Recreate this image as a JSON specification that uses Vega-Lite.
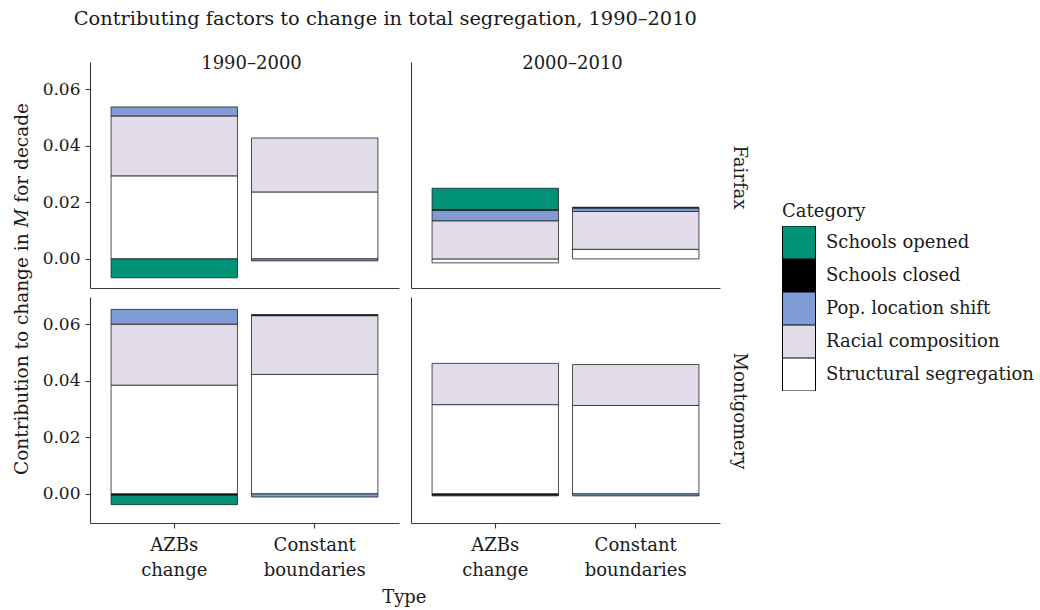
{
  "$schema": "https://vega.github.io/schema/vega-lite/v6.json",
  "background": "white",
  "padding": {"left": 12, "top": 8, "right": 5, "bottom": 5},
  "title": {"text": "Contributing factors to change in total segregation, 1990–2010", "anchor": "start", "dx": 61, "fontSize": 19.4, "offset": 26},
  "data": {"values": [
    {"County": "Fairfax", "Decade": "1990–2000", "Type": "AZBs change", "Category": "Structural segregation", "value": 0.0294},
    {"County": "Fairfax", "Decade": "1990–2000", "Type": "AZBs change", "Category": "Racial composition", "value": 0.0212},
    {"County": "Fairfax", "Decade": "1990–2000", "Type": "AZBs change", "Category": "Pop. location shift", "value": 0.0032},
    {"County": "Fairfax", "Decade": "1990–2000", "Type": "AZBs change", "Category": "Schools opened", "value": -0.0067},
    {"County": "Fairfax", "Decade": "1990–2000", "Type": "Constant boundaries", "Category": "Structural segregation", "value": 0.0237},
    {"County": "Fairfax", "Decade": "1990–2000", "Type": "Constant boundaries", "Category": "Racial composition", "value": 0.0191},
    {"County": "Fairfax", "Decade": "1990–2000", "Type": "Constant boundaries", "Category": "Pop. location shift", "value": -0.0007},
    {"County": "Fairfax", "Decade": "2000–2010", "Type": "AZBs change", "Category": "Structural segregation", "value": -0.0014},
    {"County": "Fairfax", "Decade": "2000–2010", "Type": "AZBs change", "Category": "Racial composition", "value": 0.0135},
    {"County": "Fairfax", "Decade": "2000–2010", "Type": "AZBs change", "Category": "Pop. location shift", "value": 0.0037},
    {"County": "Fairfax", "Decade": "2000–2010", "Type": "AZBs change", "Category": "Schools closed", "value": 0.0003},
    {"County": "Fairfax", "Decade": "2000–2010", "Type": "AZBs change", "Category": "Schools opened", "value": 0.0075},
    {"County": "Fairfax", "Decade": "2000–2010", "Type": "Constant boundaries", "Category": "Structural segregation", "value": 0.0034},
    {"County": "Fairfax", "Decade": "2000–2010", "Type": "Constant boundaries", "Category": "Racial composition", "value": 0.0134},
    {"County": "Fairfax", "Decade": "2000–2010", "Type": "Constant boundaries", "Category": "Pop. location shift", "value": 0.0012},
    {"County": "Fairfax", "Decade": "2000–2010", "Type": "Constant boundaries", "Category": "Schools closed", "value": 0.0003},
    {"County": "Montgomery", "Decade": "1990–2000", "Type": "AZBs change", "Category": "Structural segregation", "value": 0.0385},
    {"County": "Montgomery", "Decade": "1990–2000", "Type": "AZBs change", "Category": "Racial composition", "value": 0.0216},
    {"County": "Montgomery", "Decade": "1990–2000", "Type": "AZBs change", "Category": "Pop. location shift", "value": 0.0052},
    {"County": "Montgomery", "Decade": "1990–2000", "Type": "AZBs change", "Category": "Schools closed", "value": -0.0005},
    {"County": "Montgomery", "Decade": "1990–2000", "Type": "AZBs change", "Category": "Schools opened", "value": -0.0033},
    {"County": "Montgomery", "Decade": "1990–2000", "Type": "Constant boundaries", "Category": "Structural segregation", "value": 0.0423},
    {"County": "Montgomery", "Decade": "1990–2000", "Type": "Constant boundaries", "Category": "Racial composition", "value": 0.0208},
    {"County": "Montgomery", "Decade": "1990–2000", "Type": "Constant boundaries", "Category": "Pop. location shift", "value": -0.0011},
    {"County": "Montgomery", "Decade": "1990–2000", "Type": "Constant boundaries", "Category": "Schools closed", "value": 0.0004},
    {"County": "Montgomery", "Decade": "2000–2010", "Type": "AZBs change", "Category": "Structural segregation", "value": 0.0316},
    {"County": "Montgomery", "Decade": "2000–2010", "Type": "AZBs change", "Category": "Racial composition", "value": 0.0146},
    {"County": "Montgomery", "Decade": "2000–2010", "Type": "AZBs change", "Category": "Schools closed", "value": -0.0004},
    {"County": "Montgomery", "Decade": "2000–2010", "Type": "AZBs change", "Category": "Schools opened", "value": -0.0003},
    {"County": "Montgomery", "Decade": "2000–2010", "Type": "Constant boundaries", "Category": "Structural segregation", "value": 0.0313},
    {"County": "Montgomery", "Decade": "2000–2010", "Type": "Constant boundaries", "Category": "Racial composition", "value": 0.0145},
    {"County": "Montgomery", "Decade": "2000–2010", "Type": "Constant boundaries", "Category": "Pop. location shift", "value": -0.0007}
  ]},
  "resolve": {"scale": {"color": "shared"}, "legend": {"color": "shared"}},
  "vconcat": [
    {
      "title": {"text": "Type", "orient": "bottom", "anchor": "middle", "dx": 24, "offset": 10},
      "resolve": {"scale": {"color": "shared"}, "legend": {"color": "shared"}},
      "vconcat": [
        {
          "title": {"text": "Contribution to change in 𝑀 for decade", "orient": "left", "anchor": "middle", "dx": 28, "offset": 11, "fontSize": 18.5},
          "spacing": 9,
          "resolve": {"scale": {"color": "shared"}, "legend": {"color": "shared"}},
          "vconcat": [
            {
              "title": {"text": "Fairfax", "orient": "right", "angle": 90, "anchor": "middle", "dx": 6, "offset": 10},
              "spacing": 12,
              "resolve": {"scale": {"color": "shared"}, "legend": {"color": "shared"}},
              "hconcat": [
                {
                  "width": 309, "height": 226,
                  "title": {"text": "1990–2000", "offset": -11, "dx": 7},
                  "transform": [
                    {"filter": "datum.County === 'Fairfax' && datum.Decade === '1990–2000'"},
                    {"calculate": "indexof(['Structural segregation','Racial composition','Pop. location shift','Schools closed','Schools opened'], datum.Category)", "as": "ord"}
                  ],
                  "mark": {"type": "bar", "stroke": "#222", "strokeWidth": 0.8},
                  "encoding": {
                    "x": {"field": "Type", "type": "nominal", "sort": ["AZBs change", "Constant boundaries"], "scale": {"paddingInner": 0.1, "paddingOuter": 0.15}, "axis": {"labels": false, "ticks": false, "title": null}},
                    "y": {"field": "value", "type": "quantitative", "stack": "zero", "scale": {"domain": [-0.0103, 0.0697], "nice": false, "zero": false}, "axis": {"values": [0, 0.02, 0.04, 0.06], "format": ".2f", "title": null}},
                    "color": {"field": "Category", "type": "nominal", "scale": {"domain": ["Schools opened", "Schools closed", "Pop. location shift", "Racial composition", "Structural segregation"], "range": ["#009378", "#000000", "#7f9dd4", "#e2dbea", "#ffffff"]}, "legend": {"title": "Category"}},
                    "order": {"field": "ord", "type": "quantitative", "sort": "ascending"}
                  }
                },
                {
                  "width": 309, "height": 226,
                  "title": {"text": "2000–2010", "offset": -11, "dx": 7},
                  "transform": [
                    {"filter": "datum.County === 'Fairfax' && datum.Decade === '2000–2010'"},
                    {"calculate": "indexof(['Structural segregation','Racial composition','Pop. location shift','Schools closed','Schools opened'], datum.Category)", "as": "ord"}
                  ],
                  "mark": {"type": "bar", "stroke": "#222", "strokeWidth": 0.8},
                  "encoding": {
                    "x": {"field": "Type", "type": "nominal", "sort": ["AZBs change", "Constant boundaries"], "scale": {"paddingInner": 0.1, "paddingOuter": 0.15}, "axis": {"labels": false, "ticks": false, "title": null}},
                    "y": {"field": "value", "type": "quantitative", "stack": "zero", "scale": {"domain": [-0.0103, 0.0697], "nice": false, "zero": false}, "axis": {"values": [0, 0.02, 0.04, 0.06], "labels": false, "ticks": false, "title": null}},
                    "color": {"field": "Category", "type": "nominal", "scale": {"domain": ["Schools opened", "Schools closed", "Pop. location shift", "Racial composition", "Structural segregation"], "range": ["#009378", "#000000", "#7f9dd4", "#e2dbea", "#ffffff"]}, "legend": {"title": "Category"}},
                    "order": {"field": "ord", "type": "quantitative", "sort": "ascending"}
                  }
                }
              ]
            },
            {
              "title": {"text": "Montgomery", "orient": "right", "angle": 90, "anchor": "middle", "dx": -27, "offset": 10},
              "spacing": 12,
              "resolve": {"scale": {"color": "shared"}, "legend": {"color": "shared"}},
              "hconcat": [
                {
                  "width": 309, "height": 226,
                  "transform": [
                    {"filter": "datum.County === 'Montgomery' && datum.Decade === '1990–2000'"},
                    {"calculate": "indexof(['Structural segregation','Racial composition','Pop. location shift','Schools closed','Schools opened'], datum.Category)", "as": "ord"}
                  ],
                  "mark": {"type": "bar", "stroke": "#222", "strokeWidth": 0.8},
                  "encoding": {
                    "x": {"field": "Type", "type": "nominal", "sort": ["AZBs change", "Constant boundaries"], "scale": {"paddingInner": 0.1, "paddingOuter": 0.15}, "axis": {"labelAngle": 0, "labelExpr": "split(datum.label, ' ')", "labelFontSize": 18, "labelPadding": 8, "title": null}},
                    "y": {"field": "value", "type": "quantitative", "stack": "zero", "scale": {"domain": [-0.0103, 0.0697], "nice": false, "zero": false}, "axis": {"values": [0, 0.02, 0.04, 0.06], "format": ".2f", "title": null}},
                    "color": {"field": "Category", "type": "nominal", "scale": {"domain": ["Schools opened", "Schools closed", "Pop. location shift", "Racial composition", "Structural segregation"], "range": ["#009378", "#000000", "#7f9dd4", "#e2dbea", "#ffffff"]}, "legend": {"title": "Category"}},
                    "order": {"field": "ord", "type": "quantitative", "sort": "ascending"}
                  }
                },
                {
                  "width": 309, "height": 226,
                  "transform": [
                    {"filter": "datum.County === 'Montgomery' && datum.Decade === '2000–2010'"},
                    {"calculate": "indexof(['Structural segregation','Racial composition','Pop. location shift','Schools closed','Schools opened'], datum.Category)", "as": "ord"}
                  ],
                  "mark": {"type": "bar", "stroke": "#222", "strokeWidth": 0.8},
                  "encoding": {
                    "x": {"field": "Type", "type": "nominal", "sort": ["AZBs change", "Constant boundaries"], "scale": {"paddingInner": 0.1, "paddingOuter": 0.15}, "axis": {"labelAngle": 0, "labelExpr": "split(datum.label, ' ')", "labelFontSize": 18, "labelPadding": 8, "title": null}},
                    "y": {"field": "value", "type": "quantitative", "stack": "zero", "scale": {"domain": [-0.0103, 0.0697], "nice": false, "zero": false}, "axis": {"values": [0, 0.02, 0.04, 0.06], "labels": false, "ticks": false, "title": null}},
                    "color": {"field": "Category", "type": "nominal", "scale": {"domain": ["Schools opened", "Schools closed", "Pop. location shift", "Racial composition", "Structural segregation"], "range": ["#009378", "#000000", "#7f9dd4", "#e2dbea", "#ffffff"]}, "legend": {"title": "Category"}},
                    "order": {"field": "ord", "type": "quantitative", "sort": "ascending"}
                  }
                }
              ]
            }
          ]
        }
      ]
    }
  ],
  "config": {
    "font": "DejaVu Serif",
    "view": {"stroke": null},
    "title": {"font": "DejaVu Serif", "fontSize": 18, "fontWeight": "normal", "color": "#1a1a1a"},
    "axis": {
      "grid": false,
      "domainColor": "#3a3a3a",
      "domainWidth": 1.1,
      "tickColor": "#3a3a3a",
      "tickSize": 5,
      "tickWidth": 1.1,
      "labelFont": "DejaVu Serif",
      "labelFontSize": 17,
      "labelColor": "#1a1a1a",
      "labelPadding": 5,
      "labelLineHeight": 25
    },
    "legend": {
      "orient": "none",
      "legendX": 692,
      "legendY": 141,
      "titleFont": "DejaVu Serif",
      "titleFontSize": 18,
      "titleFontWeight": "normal",
      "titleColor": "#1a1a1a",
      "titlePadding": 5,
      "labelFont": "DejaVu Serif",
      "labelFontSize": 18,
      "labelColor": "#1a1a1a",
      "labelOffset": 10,
      "labelLimit": 400,
      "symbolType": "square",
      "symbolSize": 1089,
      "symbolStrokeColor": "#000000",
      "symbolStrokeWidth": 1,
      "clipHeight": 33,
      "rowPadding": 0
    }
  }
}
